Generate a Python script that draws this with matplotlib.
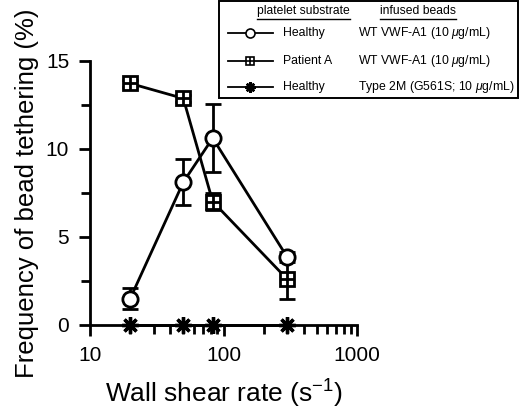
import numpy as np
import matplotlib
matplotlib.use('Agg')

import matplotlib.pyplot as plt
from matplotlib.lines import Line2D
from matplotlib.patches import Rectangle

plt.rcParams['font.family'] = ['Liberation Sans', 'DejaVu Sans']
plt.rcParams['mathtext.fontset'] = 'custom'
plt.rcParams['mathtext.rm'] = 'Liberation Sans'
plt.rcParams['mathtext.it'] = 'Liberation Sans:italic'

# data
shear = [20, 50, 83, 300]
healthy_wt = [1.5, 8.1, 10.6, 3.85]
healthy_wt_err = [0.6, 1.3, 1.95, 0.3]
patient_wt = [13.7, 12.85, 7.0, 2.6]
patient_wt_err = [0.2, 0.2, 0.5, 1.15]
healthy_2m = [0, 0, 0, 0]

legend_substrate = ['Healthy', 'Patient A', 'Healthy']
legend_beads = ['WT VWF-A1 (10 $\\mu$g/mL)', 'WT VWF-A1 (10 $\\mu$g/mL)',
                'Type 2M (G561S; 10 $\\mu$g/mL)']

W, H = 520, 408
fig = plt.figure(figsize=(W / 100, H / 100), dpi=100)
ax = fig.add_axes([90 / W, 1 - 325 / H, 267 / W, 264.5 / H])

lw = 2.0
# healthy, WT beads
ax.errorbar(shear, healthy_wt, yerr=healthy_wt_err, color='black', lw=lw,
            capsize=5.5, capthick=lw, elinewidth=lw, zorder=2)
ax.plot(shear, healthy_wt, 'o', ms=11, mfc='white', mec='black', mew=lw, zorder=4)
# patient A, WT beads
ax.errorbar(shear, patient_wt, yerr=patient_wt_err, color='black', lw=lw,
            capsize=5.5, capthick=lw, elinewidth=lw, zorder=2)
ax.plot(shear, patient_wt, 's', ms=10, mfc='white', mec='black', mew=lw, zorder=3)
ax.plot(shear, patient_wt, '+', ms=10, mec='black', mew=lw, zorder=3)
# healthy, type 2M beads
ax.plot(shear, healthy_2m, color='black', lw=lw, marker=(8, 2, 0), ms=12,
        mew=2.4, clip_on=False, zorder=5)

ax.set_xscale('log')
ax.set_xlim(10, 1000)
ax.set_ylim(0, 15)
ax.set_yticks([0, 5, 10, 15])
ax.set_yticks([2.5, 7.5, 12.5], minor=True)
ax.set_xticks([10, 100, 1000])
ax.set_xticklabels(['10', '100', '1000'])
ax.spines['top'].set_visible(False)
ax.spines['right'].set_visible(False)
ax.spines['left'].set_linewidth(lw)
ax.spines['bottom'].set_linewidth(lw)
ax.tick_params(which='major', direction='out', length=8, width=lw, labelsize=15, pad=7)
ax.tick_params(which='minor', direction='out', length=6.5, width=lw)
ax.set_xlabel('Wall shear rate (s$^{-1}$)', fontsize=19, labelpad=9)
ax.set_ylabel('Frequency of bead tethering (%)', fontsize=18.5, labelpad=5)


# hand-built legend box, positions in pixels of the figure
def fx(x):
    return x / W


def fy(y):
    return 1 - y / H


fig.patches.append(Rectangle((fx(219), fy(98)), fx(518) - fx(219), fy(1) - fy(98),
                             transform=fig.transFigure, fill=False, lw=1.4,
                             edgecolor='black'))
h1 = fig.text(fx(257), fy(11), 'platelet substrate', fontsize=8.7, va='center')
h2 = fig.text(fx(380), fy(11), 'infused beads', fontsize=8.7, va='center')
fig.canvas.draw()
renderer = fig.canvas.get_renderer()
for t in (h1, h2):
    bb = t.get_window_extent(renderer).transformed(fig.transFigure.inverted())
    fig.lines.append(Line2D([bb.x0, bb.x1], [bb.y0 - 0.004, bb.y0 - 0.004],
                            transform=fig.transFigure, color='black', lw=1.0))

rows_y = [33, 61, 87]
for i, yy in enumerate(rows_y):
    fig.lines.append(Line2D([fx(228), fx(273)], [fy(yy), fy(yy)],
                            transform=fig.transFigure, color='black', lw=1.3))
    if i == 0:
        fig.lines.append(Line2D([fx(250)], [fy(yy)], transform=fig.transFigure,
                                marker='o', ms=6.5, mfc='white', mec='black', mew=1.2))
    elif i == 1:
        fig.lines.append(Line2D([fx(250)], [fy(yy)], transform=fig.transFigure,
                                marker='s', ms=6, mfc='white', mec='black', mew=1.2))
        fig.lines.append(Line2D([fx(250)], [fy(yy)], transform=fig.transFigure,
                                marker='+', ms=6, mec='black', mew=1.2))
    else:
        fig.lines.append(Line2D([fx(250)], [fy(yy)], transform=fig.transFigure,
                                marker=(8, 2, 0), ms=7.5, mec='black', mew=1.8))
    fig.text(fx(283), fy(yy), legend_substrate[i], fontsize=8.8, va='center')
    fig.text(fx(358), fy(yy), legend_beads[i], fontsize=8.8, va='center')

fig.savefig('out.png', dpi=100)
